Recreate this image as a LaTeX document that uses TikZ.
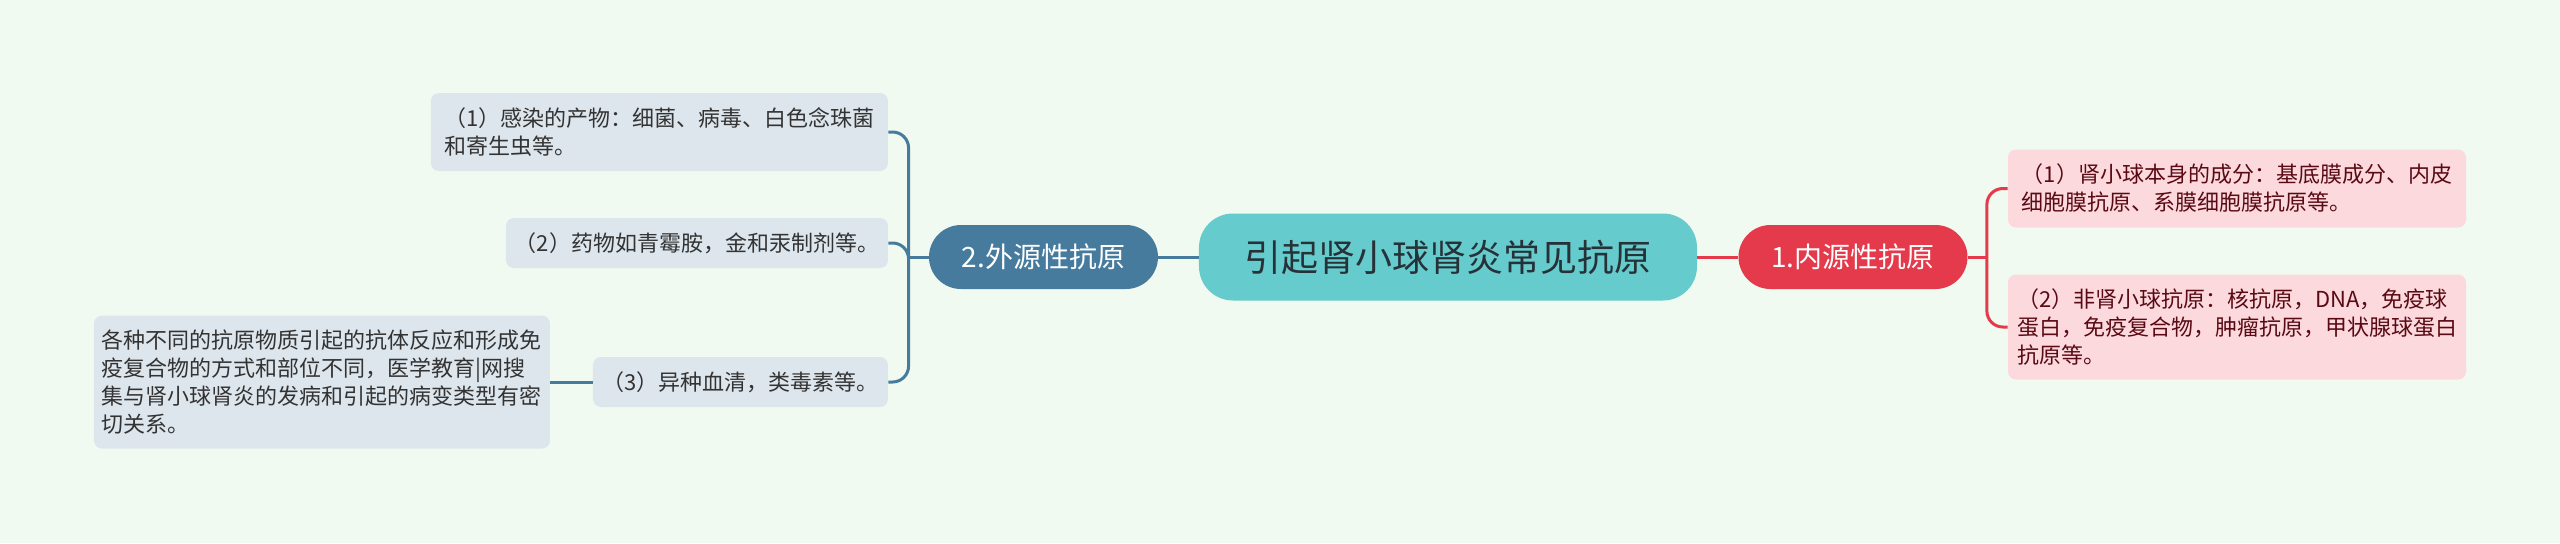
\documentclass[tikz,border=0pt]{standalone}
\usepackage{fontspec}
\setmainfont{Noto Sans CJK SC}
\usepackage{xcolor}
\usepackage{tikz}
\usetikzlibrary{calc, positioning}
\definecolor{bgcol}{HTML}{F0FAF0}
\definecolor{rootcol}{HTML}{65CBCC}
\definecolor{roottext}{HTML}{263238}
\definecolor{extcol}{HTML}{467B9D}
\definecolor{intcol}{HTML}{E43A4B}
\definecolor{leafblue}{HTML}{DDE6ED}
\definecolor{leaftext}{HTML}{333333}
\definecolor{leafpink}{HTML}{FCD9DD}
\definecolor{pinktext}{HTML}{5A0A14}
\tikzset{
    rootnode/.style = {draw=none, fill=rootcol, rectangle, rounded corners=17pt, inner sep=0pt,
      minimum width=249pt, minimum height=43.5pt, node distance=0em, text=roottext,
      font=\fontsize{18.5}{22}\selectfont},
    branchnode/.style = {draw=none, rectangle, rounded corners=16pt, inner sep=0pt,
      minimum width=114.5pt, minimum height=32pt, node distance=0em, text=white,
      font=\fontsize{14}{17}\selectfont},
    leafnode/.style = {draw=none, rectangle, rounded corners=4pt, inner sep=0pt,
      node distance=0em, align=left, font=\fontsize{11}{14}\selectfont},
    bluenode/.style = {leafnode, fill=leafblue, text=leaftext},
    pinknode/.style = {leafnode, fill=leafpink, text=pinktext},
    blueconnect/.style = {extcol, line width=1.5pt, rounded corners=8pt},
    redconnect/.style = {intcol, line width=1.5pt, rounded corners=8pt}
}
\begin{document}
\begin{tikzpicture}
    \fill[bgcol] (-724pt,-143pt) rectangle (556pt,128.5pt);

    \node [rootnode, name=root] at (0,0) {引起肾小球肾炎常见抗原};
    \node [branchnode, fill=extcol, name=ext, left of = root, xshift=-202.25pt] {2.外源性抗原};
    \node [branchnode, fill=intcol, name=int, right of = root, xshift=202.5pt] {1.内源性抗原};

    \node [bluenode, name=ext1, left of = ext, xshift=-192pt, yshift=62.5pt,
      minimum width=228.5pt, minimum height=39pt] {（1）感染的产物：细菌、病毒、白色念珠菌\\和寄生虫等。};
    \node [bluenode, name=ext2, left of = ext, xshift=-173.25pt, yshift=7pt,
      minimum width=191pt, minimum height=25pt] {（2）药物如青霉胺，金和汞制剂等。};
    \node [bluenode, name=ext3, left of = ext, xshift=-151.5pt, yshift=-62.5pt,
      minimum width=147.5pt, minimum height=25pt] {（3）异种血清，类毒素等。};
    \node [bluenode, name=note, left of = ext3, xshift=-209.25pt,
      minimum width=228pt, minimum height=66.5pt] {各种不同的抗原物质引起的抗体反应和形成免\\疫复合物的方式和部位不同，医学教育|网搜\\集与肾小球肾炎的发病和引起的病变类型有密\\切关系。};

    \node [pinknode, name=int1, right of = int, xshift=192pt, yshift=34.25pt,
      minimum width=229pt, minimum height=39pt] {（1）肾小球本身的成分：基底膜成分、内皮\\细胞膜抗原、系膜细胞膜抗原等。};
    \node [pinknode, name=int2, right of = int, xshift=192pt, yshift=-35pt,
      minimum width=229pt, minimum height=52.5pt] {（2）非肾小球抗原：核抗原，DNA，免疫球\\蛋白，免疫复合物，肿瘤抗原，甲状腺球蛋白\\抗原等。};

    \coordinate [left = 10pt of ext.west] (extjoin);
    \coordinate [right = 9.5pt of int.east] (intjoin);

    \draw[blueconnect] (root.west) -- (ext.east);
    \draw[redconnect] (root.east) -- (int.west);
    \draw[blueconnect] (ext.west) -- (extjoin);
    \draw[blueconnect] (extjoin) |- (ext1.east);
    \draw[blueconnect] (extjoin) |- (ext2.east);
    \draw[blueconnect] (extjoin) |- (ext3.east);
    \draw[blueconnect] (ext3.west) -- (note.east);
    \draw[redconnect] (int.east) -- (intjoin);
    \draw[redconnect] (intjoin) |- (int1.west);
    \draw[redconnect] (intjoin) |- (int2.west);
\end{tikzpicture}
\end{document}
